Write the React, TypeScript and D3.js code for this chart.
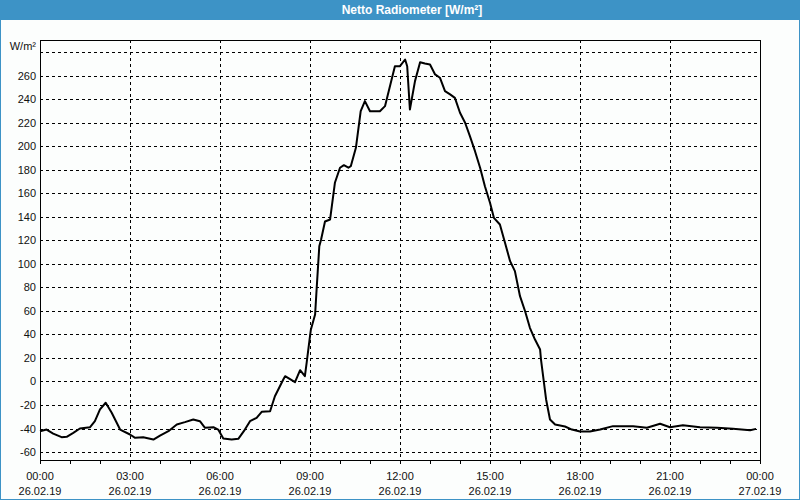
import React from "react";
import * as d3 from "d3";

// Hours since 26.02.19 00:00
const hours = [
  0, 0.22, 0.44, 0.72, 0.89, 1.11, 1.33, 1.67, 1.83, 2.0, 2.19, 2.39, 2.67, 3.0, 3.17, 3.44, 3.78,
  4.0, 4.28, 4.56, 4.83, 5.11, 5.33, 5.5, 5.78, 5.94, 6.11, 6.39, 6.61, 6.83, 7.0, 7.22, 7.39, 7.67,
  7.83, 8.11, 8.17, 8.5, 8.67, 8.83, 8.89, 9.0, 9.03, 9.17, 9.22, 9.31, 9.37, 9.5, 9.67, 9.83, 10.0,
  10.13, 10.28, 10.36, 10.53, 10.69, 10.83, 11.0, 11.33, 11.5, 11.83, 12.0, 12.17, 12.24, 12.33, 12.5,
  12.67, 12.83, 13.0, 13.17, 13.33, 13.5, 13.67, 13.83, 14.0, 14.17, 14.33, 14.5, 14.67, 14.83, 15.0,
  15.13, 15.33, 15.5, 15.67, 15.83, 16.0, 16.17, 16.33, 16.5, 16.67, 16.7, 16.87, 17.0, 17.17, 17.5,
  17.73, 18.0, 18.33, 18.67, 19.1, 19.77, 20.23, 20.67, 21.0, 21.43, 22.0, 22.57, 23.1, 23.67, 23.87,
];
const values = [
  -42.3, -40.9, -44.3, -47.4, -47.1, -43.7, -40.0, -38.9, -33.8, -23.8, -18.1, -26.6, -40.9, -45.1,
  -47.9, -47.4, -49.4, -46.0, -42.3, -36.6, -34.6, -32.3, -33.8, -39.4, -38.9, -40.9, -48.5, -49.4,
  -48.8, -40.9, -33.8, -30.9, -25.8, -25.3, -12.5, 1.7, 4.5, -0.6, 9.6, 4.5, 16.2, 38.6, 44.3, 57.0,
  78.3, 115.1, 120.9, 136.2, 137.9, 169.1, 181.9, 184.1, 181.9, 183.2, 198.9, 230.0, 238.6, 230.0,
  230.0, 234.3, 268.3, 268.3, 274.0, 268.3, 231.5, 255.6, 271.7, 270.6, 269.8, 261.3, 258.5, 247.1,
  244.3, 241.4, 228.7, 220.2, 208.8, 196.0, 181.9, 166.2, 152.1, 139.3, 133.6, 118.0, 102.4, 93.9,
  72.6, 59.8, 45.7, 35.7, 27.2, 18.7, -15.3, -32.3, -36.6, -38.3, -40.9, -42.6, -42.6, -40.9, -38.0,
  -38.0, -39.4, -36.0, -38.9, -37.2, -38.9, -39.4, -40.3, -41.4, -40.3,
];

const yTicks = [-60, -40, -20, 0, 20, 40, 60, 80, 100, 120, 140, 160, 180, 200, 220, 240, 260];
const yGrid = [-60, -40, -20, 0, 20, 40, 60, 80, 100, 120, 140, 160, 180, 200, 220, 240, 260, 280];
const xTickHours = [0, 3, 6, 9, 12, 15, 18, 21, 24];
const xTimeLabels = ["00:00", "03:00", "06:00", "09:00", "12:00", "15:00", "18:00", "21:00", "00:00"];
const xDateLabels = ["26.02.19", "26.02.19", "26.02.19", "26.02.19", "26.02.19", "26.02.19", "26.02.19", "26.02.19", "27.02.19"];
const minorHours = d3.range(0, 25, 1);

const title = "Netto Radiometer [W/m²]";
const unit = "W/m²";

const W = 800;
const H = 500;
const L = 40, R = 760, T = 40, B = 460;

export default function App() {
  const x = d3.scaleLinear().domain([0, 24]).range([L, R]);
  const y = d3.scaleLinear().domain([-66.8, 290.6]).range([B, T]);
  const data = hours.map((h, i) => [h, values[i]] as [number, number]);
  const line = d3.line<[number, number]>().x((d) => x(d[0])).y((d) => y(d[1]));
  const font = "'Liberation Sans', Arial, sans-serif";

  return (
    <svg width={W} height={H} style={{ position: "absolute", left: 0, top: 0 }} fontFamily={font}>
      <rect x={0} y={0} width={W} height={H} fill="#3d93c6" />
      <rect x={1} y={20} width={W - 2} height={H - 21} fill="#fcfefd" />
      <text x={412} y={14} fill="#ffffff" fontWeight="bold" fontSize={12} textAnchor="middle">
        {title}
      </text>
      <text x={36} y={50} fontSize={11} textAnchor="end" fill="#111">{unit}</text>

      {yGrid.map((v) => (
        <line key={"hg" + v} x1={L} x2={R} y1={Math.round(y(v)) + 0.5} y2={Math.round(y(v)) + 0.5}
          stroke="#000" strokeWidth={1} strokeDasharray="3,3" />
      ))}
      {xTickHours.slice(1, -1).map((h) => (
        <line key={"vg" + h} x1={Math.round(x(h)) + 0.5} x2={Math.round(x(h)) + 0.5} y1={T} y2={B}
          stroke="#000" strokeWidth={1} strokeDasharray="3,3" />
      ))}
      {minorHours.map((h) => (
        <line key={"mt" + h} x1={Math.round(x(h)) + 0.5} x2={Math.round(x(h)) + 0.5} y1={B} y2={B + 4}
          stroke="#000" strokeWidth={1} />
      ))}
      <rect x={L + 0.5} y={T + 0.5} width={R - L} height={B - T} fill="none" stroke="#000" strokeWidth={1} />

      {yTicks.map((v) => (
        <text key={"yl" + v} x={36} y={y(v) + 4} fontSize={11} textAnchor="end" fill="#111">{v}</text>
      ))}
      {xTickHours.map((h, i) => (
        <g key={"xl" + i}>
          <text x={x(h)} y={480} fontSize={11} textAnchor="middle" fill="#111">{xTimeLabels[i]}</text>
          <text x={x(h)} y={495} fontSize={11} textAnchor="middle" fill="#111">{xDateLabels[i]}</text>
        </g>
      ))}

      <path d={line(data) || ""} fill="none" stroke="#000" strokeWidth={2} strokeLinejoin="round" />
    </svg>
  );
}
